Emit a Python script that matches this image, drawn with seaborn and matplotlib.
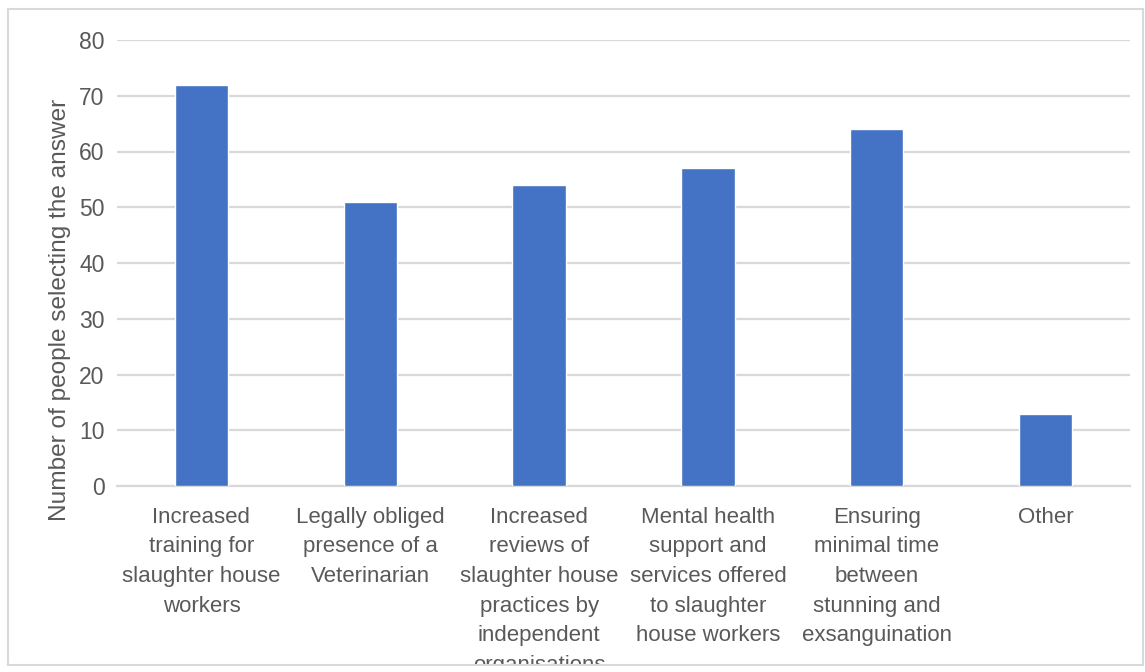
import matplotlib
matplotlib.use("Agg")
import matplotlib.pyplot as plt
import seaborn as sns
import pandas as pd
from matplotlib.patches import Rectangle
from matplotlib.transforms import Bbox, TransformedBbox

categories = [
    "Increased\ntraining for\nslaughter house\nworkers",
    "Legally obliged\npresence of a\nVeterinarian",
    "Increased\nreviews of\nslaughter house\npractices by\nindependent\norganisations",
    "Mental health\nsupport and\nservices offered\nto slaughter\nhouse workers",
    "Ensuring\nminimal time\nbetween\nstunning and\nexsanguination",
    "Other",
]
counts = [72, 51, 54, 57, 64, 13]
y_ticks = [0, 10, 20, 30, 40, 50, 60, 70, 80]
y_label = "Number of people selecting the answer"

sns.set_theme(style="white")
plt.rcParams["font.family"] = ["Liberation Sans", "DejaVu Sans"]

TEXT = "#595959"
GRID = "#D9D9D9"

W, H = 1145, 672
fig = plt.figure(figsize=(W / 100, H / 100), dpi=100)
ax = fig.add_axes([117 / W, 1 - 486 / H, (1130 - 117) / W, (486 - 40) / H])

df = pd.DataFrame({"category": categories, "count": counts})
sns.barplot(data=df, x="category", y="count", color="#4472C4",
            saturation=1, width=0.315, ax=ax, zorder=3)

ax.set_ylim(0, 80)
ax.set_yticks(y_ticks)
ax.set_xlim(-0.5, len(categories) - 0.5)
ax.yaxis.grid(True, color=GRID, linewidth=1.6, zorder=0)
ax.set_axisbelow(True)
for s in ["top", "right", "left"]:
    ax.spines[s].set_visible(False)
ax.spines["bottom"].set_color(GRID)
ax.spines["bottom"].set_linewidth(1.6)

ax.set_xlabel("")
ax.set_ylabel(y_label, fontsize=17.6, color=TEXT)
ax.yaxis.set_label_coords((71 - 117) / 1013, (486 - 310) / 446)
ax.tick_params(axis="y", length=0, pad=9, labelsize=16.5, labelcolor=TEXT)
ax.tick_params(axis="x", length=0, pad=15)

ax.set_xticks(range(len(categories)))
ax.set_xticklabels(categories, fontsize=16, color=TEXT, linespacing=1.54)

# the frame cuts off anything that runs past its lower edge
clip = TransformedBbox(Bbox.from_extents(0, 1 - 665 / H, 1, 1), fig.transFigure)
for lbl in ax.get_xticklabels():
    lbl.set_clip_box(clip)
    lbl.set_clip_on(True)

# light frame around the chart area
fig.patches.append(Rectangle((8 / W, 1 - 665 / H), (1143 - 8) / W, (665 - 9) / H,
                             transform=fig.transFigure, fill=False,
                             edgecolor=GRID, linewidth=1.5, zorder=10))

fig.savefig("out.png", dpi=100)
